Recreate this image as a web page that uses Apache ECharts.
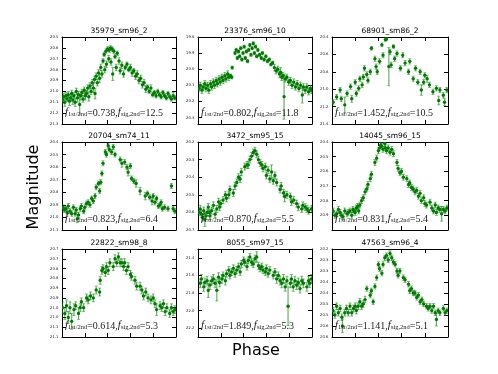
<!DOCTYPE html>
<html>
<head>
<meta charset="utf-8">
<script src="https://cdn.jsdelivr.net/npm/echarts@6/dist/echarts.min.js"></script>
<style>
html, body { margin: 0; padding: 0; background: #fff; }
#chart { width: 498px; height: 374px; }
</style>
</head>
<body>
<div id="chart"></div>
<script>
// light curves: [phase, magnitude, error]
var obs35979 = [[0.005,21.08,0.03],[0.015,21.05,0.03],[0.025,21.10,0.04],[0.035,21.04,0.03],[0.045,21.07,0.02],[0.055,21.03,0.03],[0.065,21.09,0.04],[0.075,21.06,0.03],[0.085,21.02,0.03],[0.095,21.08,0.04],[0.105,21.04,0.03],[0.115,21.10,0.04],[0.125,21.00,0.03],[0.135,21.06,0.04],[0.145,21.03,0.03],[0.155,21.12,0.09],[0.165,21.04,0.04],[0.175,21.01,0.03],[0.185,21.07,0.03],[0.195,20.99,0.03],[0.205,21.04,0.04],[0.215,21.02,0.03],[0.225,20.97,0.03],[0.235,21.05,0.04],[0.245,20.95,0.03],[0.255,21.00,0.03],[0.265,20.92,0.03],[0.275,20.97,0.04],[0.285,20.89,0.03],[0.29,21.02,0.05],[0.30,20.86,0.03],[0.31,20.92,0.03],[0.32,20.83,0.03],[0.33,20.88,0.04],[0.34,20.78,0.03],[0.35,20.84,0.03],[0.36,20.72,0.02],[0.37,20.66,0.02],[0.375,20.80,0.03],[0.385,20.63,0.02],[0.39,20.75,0.03],[0.40,20.61,0.02],[0.41,20.70,0.03],[0.415,20.62,0.02],[0.425,20.60,0.02],[0.43,20.73,0.03],[0.44,20.61,0.02],[0.445,20.84,0.06],[0.455,20.63,0.02],[0.465,20.68,0.02],[0.475,20.78,0.03],[0.485,20.65,0.02],[0.50,20.72,0.03],[0.51,20.81,0.03],[0.525,20.76,0.03],[0.54,20.84,0.03],[0.555,20.78,0.02],[0.57,20.75,0.02],[0.585,20.80,0.02],[0.60,20.78,0.03],[0.615,20.83,0.03],[0.63,20.81,0.02],[0.645,20.86,0.03],[0.66,20.84,0.03],[0.675,20.90,0.03],[0.69,20.88,0.03],[0.705,20.94,0.03],[0.72,20.92,0.03],[0.735,20.98,0.03],[0.75,20.96,0.02],[0.765,21.00,0.02],[0.78,20.97,0.03],[0.795,21.03,0.02],[0.81,21.01,0.02],[0.825,21.04,0.02],[0.84,21.00,0.02],[0.855,21.03,0.02],[0.87,21.05,0.02],[0.885,21.01,0.02],[0.90,21.04,0.02],[0.915,21.06,0.02],[0.93,21.02,0.02],[0.945,21.05,0.02],[0.96,21.07,0.02],[0.975,21.04,0.03],[0.99,21.06,0.02]];
var obs23376 = [[0.01,20.12,0.02],[0.02,20.10,0.02],[0.035,20.13,0.02],[0.045,20.11,0.02],[0.06,20.09,0.02],[0.07,20.12,0.02],[0.085,20.10,0.02],[0.095,20.13,0.02],[0.11,20.09,0.02],[0.12,20.11,0.02],[0.135,20.08,0.02],[0.145,20.10,0.02],[0.16,20.07,0.02],[0.17,20.09,0.02],[0.185,20.06,0.02],[0.195,20.08,0.02],[0.21,20.05,0.02],[0.22,20.07,0.02],[0.235,20.04,0.02],[0.245,20.06,0.02],[0.26,20.03,0.02],[0.27,20.05,0.02],[0.285,20.04,0.01],[0.295,20.05,0.01],[0.30,19.99,0.01],[0.325,19.90,0.01],[0.335,19.88,0.01],[0.345,19.93,0.01],[0.355,19.89,0.01],[0.365,19.92,0.01],[0.375,19.87,0.01],[0.385,19.94,0.01],[0.395,19.90,0.01],[0.405,19.86,0.01],[0.415,19.93,0.01],[0.425,19.89,0.01],[0.435,19.95,0.01],[0.445,19.88,0.01],[0.455,19.85,0.01],[0.465,19.91,0.01],[0.475,19.87,0.01],[0.485,19.84,0.01],[0.495,19.90,0.01],[0.505,19.86,0.01],[0.515,19.92,0.01],[0.525,19.88,0.01],[0.54,19.91,0.01],[0.555,19.93,0.01],[0.565,19.90,0.01],[0.58,19.94,0.01],[0.595,19.92,0.01],[0.61,19.95,0.01],[0.625,19.94,0.01],[0.64,19.97,0.01],[0.655,19.96,0.01],[0.67,19.99,0.02],[0.685,20.01,0.02],[0.70,20.00,0.02],[0.715,20.03,0.02],[0.725,20.02,0.03],[0.735,20.05,0.02],[0.745,20.04,0.02],[0.755,20.17,0.14],[0.765,20.06,0.02],[0.78,20.05,0.02],[0.795,20.08,0.02],[0.81,20.07,0.02],[0.825,20.10,0.02],[0.84,20.08,0.02],[0.855,20.11,0.02],[0.87,20.09,0.02],[0.885,20.12,0.02],[0.90,20.10,0.02],[0.915,20.16,0.05],[0.925,20.11,0.02],[0.94,20.13,0.02],[0.955,20.11,0.02],[0.97,20.14,0.02],[0.985,20.12,0.02],[0.995,20.13,0.02]];
var obs68901 = [[0.01,21.15,0.03],[0.04,21.09,0.03],[0.07,21.01,0.03],[0.08,21.11,0.03],[0.11,21.18,0.09],[0.13,21.05,0.03],[0.16,20.97,0.03],[0.17,21.11,0.04],[0.20,20.92,0.03],[0.21,21.05,0.03],[0.23,20.99,0.03],[0.24,20.88,0.03],[0.26,20.95,0.03],[0.27,20.86,0.03],[0.28,20.76,0.03],[0.30,20.83,0.03],[0.31,20.90,0.03],[0.33,20.80,0.03],[0.34,20.53,0.02],[0.37,20.65,0.03],[0.38,20.74,0.03],[0.39,20.80,0.03],[0.41,20.68,0.03],[0.43,20.49,0.02],[0.44,20.61,0.03],[0.46,20.43,0.02],[0.47,20.42,0.02],[0.49,20.74,0.22],[0.50,20.57,0.03],[0.51,20.72,0.03],[0.53,20.51,0.02],[0.54,20.65,0.03],[0.56,20.59,0.03],[0.59,20.76,0.03],[0.61,20.61,0.03],[0.63,20.70,0.03],[0.66,20.80,0.03],[0.67,20.68,0.03],[0.70,20.88,0.03],[0.72,20.76,0.03],[0.74,20.92,0.03],[0.76,20.80,0.03],[0.77,21.01,0.06],[0.79,20.92,0.03],[0.80,20.84,0.03],[0.82,20.88,0.04],[0.84,20.95,0.03],[0.87,21.03,0.03],[0.90,20.99,0.03],[0.92,21.13,0.05],[0.93,21.01,0.03],[0.96,21.07,0.03],[0.97,21.15,0.04],[0.99,21.01,0.03]];
var obs20704 = [[0.01,20.92,0.02],[0.02,20.94,0.02],[0.035,20.93,0.02],[0.045,20.96,0.02],[0.055,20.91,0.02],[0.07,20.95,0.02],[0.085,20.97,0.02],[0.10,20.92,0.02],[0.115,20.97,0.02],[0.125,20.94,0.02],[0.135,21.01,0.03],[0.145,20.98,0.02],[0.16,20.93,0.02],[0.17,20.91,0.02],[0.19,20.95,0.02],[0.20,20.92,0.02],[0.215,20.89,0.02],[0.23,20.88,0.02],[0.245,20.90,0.02],[0.26,20.85,0.02],[0.275,20.87,0.02],[0.29,20.83,0.02],[0.30,20.76,0.02],[0.32,20.73,0.02],[0.33,20.79,0.02],[0.34,20.72,0.02],[0.35,20.65,0.02],[0.36,20.57,0.02],[0.38,20.48,0.02],[0.39,20.50,0.02],[0.405,20.43,0.02],[0.415,20.46,0.02],[0.435,20.48,0.02],[0.45,20.44,0.02],[0.465,20.50,0.02],[0.51,20.54,0.02],[0.525,20.57,0.03],[0.55,20.56,0.02],[0.57,20.60,0.02],[0.58,20.64,0.03],[0.60,20.59,0.02],[0.61,20.69,0.02],[0.63,20.71,0.02],[0.65,20.73,0.03],[0.685,20.79,0.03],[0.73,20.83,0.03],[0.75,20.81,0.02],[0.77,20.84,0.02],[0.79,20.87,0.03],[0.80,20.83,0.02],[0.815,20.88,0.02],[0.83,20.85,0.02],[0.845,20.91,0.02],[0.86,20.90,0.02],[0.87,20.88,0.02],[0.88,20.93,0.02],[0.90,20.92,0.02],[0.93,20.93,0.02],[0.96,20.75,0.02],[0.975,20.93,0.02],[0.99,20.95,0.02]];
var obs3472 = [[0.01,20.60,0.02],[0.02,20.58,0.02],[0.03,20.61,0.02],[0.04,20.63,0.02],[0.05,20.59,0.02],[0.06,20.64,0.04],[0.07,20.62,0.02],[0.08,20.60,0.02],[0.09,20.57,0.02],[0.10,20.60,0.02],[0.105,20.62,0.02],[0.12,20.59,0.02],[0.135,20.56,0.02],[0.15,20.61,0.02],[0.165,20.58,0.02],[0.18,20.54,0.02],[0.19,20.57,0.02],[0.20,20.55,0.02],[0.22,20.53,0.02],[0.24,20.50,0.02],[0.25,20.52,0.02],[0.27,20.50,0.02],[0.28,20.47,0.02],[0.31,20.49,0.02],[0.325,20.45,0.02],[0.34,20.43,0.02],[0.355,20.40,0.02],[0.37,20.41,0.02],[0.38,20.37,0.02],[0.41,20.34,0.02],[0.43,20.33,0.02],[0.44,20.33,0.02],[0.455,20.30,0.02],[0.47,20.28,0.02],[0.485,20.26,0.02],[0.50,20.25,0.02],[0.515,20.27,0.02],[0.53,20.30,0.02],[0.545,20.32,0.02],[0.56,20.33,0.02],[0.57,20.35,0.02],[0.59,20.34,0.02],[0.60,20.39,0.02],[0.615,20.36,0.02],[0.63,20.41,0.02],[0.645,20.37,0.04],[0.66,20.42,0.02],[0.675,20.39,0.02],[0.69,20.43,0.02],[0.72,20.47,0.02],[0.73,20.45,0.02],[0.75,20.49,0.02],[0.76,20.51,0.03],[0.78,20.50,0.02],[0.81,20.51,0.02],[0.82,20.54,0.02],[0.84,20.53,0.02],[0.865,20.55,0.02],[0.88,20.57,0.02],[0.91,20.58,0.02],[0.92,20.56,0.02],[0.94,20.57,0.02],[0.955,20.58,0.02],[0.97,20.59,0.02],[0.995,20.58,0.02]];
var obs14045 = [[0.01,20.87,0.02],[0.025,20.90,0.02],[0.04,20.89,0.02],[0.055,20.86,0.02],[0.07,20.88,0.02],[0.08,20.90,0.02],[0.095,20.91,0.02],[0.11,20.87,0.02],[0.13,20.89,0.02],[0.14,20.88,0.02],[0.155,20.87,0.02],[0.17,20.90,0.02],[0.18,20.86,0.02],[0.19,20.87,0.02],[0.20,20.88,0.02],[0.21,20.85,0.02],[0.22,20.84,0.02],[0.23,20.87,0.02],[0.24,20.83,0.02],[0.255,20.80,0.02],[0.27,20.78,0.02],[0.285,20.74,0.02],[0.30,20.72,0.02],[0.31,20.69,0.02],[0.33,20.65,0.02],[0.34,20.62,0.02],[0.37,20.54,0.02],[0.385,20.51,0.02],[0.40,20.46,0.02],[0.41,20.44,0.02],[0.42,20.42,0.02],[0.43,20.43,0.02],[0.44,20.45,0.02],[0.455,20.41,0.02],[0.46,20.44,0.02],[0.47,20.46,0.02],[0.485,20.44,0.02],[0.50,20.47,0.02],[0.515,20.45,0.02],[0.53,20.48,0.02],[0.56,20.54,0.02],[0.57,20.58,0.02],[0.585,20.61,0.02],[0.60,20.60,0.02],[0.615,20.64,0.02],[0.645,20.65,0.02],[0.66,20.69,0.02],[0.67,20.68,0.02],[0.685,20.71,0.02],[0.70,20.72,0.02],[0.715,20.74,0.02],[0.73,20.73,0.02],[0.745,20.77,0.02],[0.76,20.75,0.02],[0.77,20.80,0.02],[0.79,20.78,0.02],[0.80,20.82,0.02],[0.815,20.83,0.02],[0.845,20.81,0.02],[0.86,20.85,0.02],[0.875,20.87,0.02],[0.89,20.83,0.02],[0.90,20.88,0.02],[0.915,20.85,0.02],[0.93,20.86,0.02],[0.945,20.89,0.05],[0.96,20.86,0.02],[0.975,20.87,0.02],[0.99,20.85,0.02]];
var obs22822 = [[0.005,20.95,0.03],[0.025,20.98,0.03],[0.04,20.94,0.03],[0.055,21.00,0.03],[0.07,20.95,0.03],[0.085,21.02,0.04],[0.105,20.96,0.03],[0.12,20.94,0.02],[0.145,20.98,0.03],[0.16,20.95,0.02],[0.17,20.92,0.02],[0.19,20.95,0.02],[0.215,20.90,0.02],[0.23,20.91,0.02],[0.25,20.89,0.02],[0.275,20.90,0.02],[0.30,20.86,0.02],[0.33,20.87,0.02],[0.335,20.81,0.02],[0.35,20.76,0.02],[0.36,20.75,0.02],[0.38,20.77,0.02],[0.39,20.74,0.02],[0.405,20.76,0.02],[0.42,20.72,0.02],[0.45,20.74,0.02],[0.465,20.70,0.02],[0.48,20.72,0.02],[0.495,20.69,0.02],[0.51,20.72,0.02],[0.525,20.72,0.02],[0.54,20.74,0.02],[0.55,20.72,0.02],[0.565,20.76,0.02],[0.58,20.74,0.02],[0.60,20.78,0.02],[0.61,20.79,0.02],[0.64,20.81,0.02],[0.655,20.84,0.02],[0.685,20.84,0.02],[0.70,20.86,0.02],[0.715,20.89,0.02],[0.735,20.87,0.02],[0.755,20.90,0.02],[0.78,20.91,0.02],[0.80,20.90,0.02],[0.815,20.93,0.02],[0.83,20.96,0.03],[0.86,20.94,0.02],[0.875,20.95,0.02],[0.89,20.93,0.02],[0.905,20.97,0.02],[0.92,20.95,0.02],[0.945,20.98,0.02],[0.96,20.95,0.02],[0.975,20.97,0.02],[0.99,20.96,0.02]];
var obs8055 = [[0.02,21.69,0.05],[0.03,21.64,0.05],[0.05,21.73,0.05],[0.06,21.68,0.05],[0.08,21.66,0.05],[0.09,21.77,0.08],[0.105,21.71,0.05],[0.12,21.66,0.05],[0.135,21.64,0.05],[0.15,21.69,0.05],[0.165,21.77,0.12],[0.18,21.62,0.05],[0.19,21.68,0.05],[0.21,21.64,0.05],[0.22,21.60,0.04],[0.24,21.66,0.05],[0.25,21.58,0.04],[0.27,21.54,0.04],[0.28,21.60,0.04],[0.295,21.56,0.04],[0.31,21.52,0.04],[0.325,21.58,0.04],[0.34,21.54,0.04],[0.355,21.50,0.04],[0.37,21.56,0.04],[0.38,21.47,0.04],[0.40,21.43,0.04],[0.41,21.45,0.04],[0.43,21.50,0.04],[0.44,21.43,0.04],[0.455,21.39,0.04],[0.47,21.45,0.04],[0.485,21.47,0.04],[0.50,21.41,0.04],[0.515,21.39,0.06],[0.53,21.49,0.04],[0.545,21.52,0.04],[0.56,21.50,0.04],[0.57,21.54,0.04],[0.59,21.56,0.04],[0.60,21.52,0.04],[0.615,21.58,0.04],[0.63,21.54,0.04],[0.66,21.60,0.04],[0.675,21.56,0.04],[0.69,21.64,0.05],[0.705,21.60,0.04],[0.72,21.66,0.05],[0.735,21.69,0.05],[0.75,21.64,0.05],[0.765,21.73,0.05],[0.78,21.66,0.05],[0.79,21.95,0.22],[0.81,21.69,0.05],[0.82,21.64,0.05],[0.835,21.73,0.05],[0.85,21.66,0.05],[0.865,21.71,0.05],[0.88,21.68,0.05],[0.895,21.75,0.05],[0.91,21.66,0.05],[0.925,21.69,0.05],[0.955,21.73,0.05],[0.97,21.66,0.05],[0.98,21.69,0.05],[0.995,21.64,0.05]];
var obs47563 = [[0.01,20.48,0.015],[0.025,20.50,0.015],[0.04,20.46,0.015],[0.055,20.49,0.015],[0.07,20.47,0.015],[0.085,20.51,0.015],[0.09,20.55,0.03],[0.11,20.49,0.015],[0.125,20.47,0.015],[0.14,20.49,0.015],[0.155,20.46,0.015],[0.17,20.49,0.015],[0.185,20.47,0.015],[0.20,20.46,0.015],[0.21,20.48,0.015],[0.225,20.46,0.015],[0.24,20.44,0.015],[0.255,20.46,0.015],[0.27,20.45,0.015],[0.285,20.43,0.015],[0.30,20.38,0.012],[0.33,20.41,0.012],[0.34,20.39,0.012],[0.355,20.44,0.012],[0.37,20.37,0.012],[0.385,20.33,0.012],[0.40,20.27,0.012],[0.41,20.29,0.012],[0.43,20.31,0.012],[0.44,20.27,0.012],[0.455,20.24,0.012],[0.47,20.23,0.012],[0.485,20.25,0.012],[0.50,20.22,0.012],[0.515,20.24,0.012],[0.53,20.26,0.012],[0.545,20.27,0.012],[0.56,20.30,0.012],[0.57,20.32,0.012],[0.585,20.30,0.012],[0.615,20.33,0.012],[0.63,20.34,0.012],[0.66,20.36,0.012],[0.67,20.39,0.012],[0.685,20.38,0.012],[0.70,20.40,0.012],[0.715,20.40,0.012],[0.73,20.42,0.012],[0.745,20.41,0.012],[0.76,20.44,0.012],[0.775,20.43,0.012],[0.79,20.45,0.012],[0.815,20.46,0.012],[0.83,20.47,0.012],[0.845,20.46,0.012],[0.86,20.48,0.012],[0.875,20.46,0.012],[0.89,20.49,0.012],[0.90,20.52,0.03],[0.915,20.48,0.012],[0.93,20.49,0.012],[0.96,20.47,0.012],[0.975,20.49,0.012],[0.99,20.48,0.012]];

var panelNames = ['35979_sm96_2', '23376_sm96_10', '68901_sm86_2', '20704_sm74_11', '3472_sm95_15', '14045_sm96_15', '22822_sm98_8', '8055_sm97_15', '47563_sm96_4'];
var fRatio = ['0.738', '0.802', '1.452', '0.823', '0.870', '0.831', '0.614', '1.849', '1.141'];
var fSig = ['12.5', '11.8', '10.5', '6.4', '5.5', '5.4', '5.3', '5.3', '5.1'];
var magTop = [20.5, 19.8, 20.4, 20.4, 20.2, 20.4, 20.65, 21.3, 20.2];
var magBottom = [21.3, 20.34, 21.4, 21.1, 20.7, 21.0, 21.1, 22.3, 20.6];

// y tick positions and the text printed at them
var ticks35979 = [20.5, 20.6, 20.7, 20.8, 20.9, 21.0, 21.1, 21.2, 21.3];
var ticks23376 = [19.8, 19.9, 20.0, 20.1, 20.2, 20.3];
var ticks68901 = [20.4, 20.6, 20.8, 21.0, 21.2, 21.4];
var ticks20704 = [20.4, 20.5, 20.6, 20.7, 20.8, 20.9, 21.0, 21.1];
var ticks3472 = [20.2, 20.3, 20.4, 20.5, 20.6, 20.7];
var ticks14045 = [20.4, 20.5, 20.6, 20.7, 20.8, 20.9];
var ticks22822 = [20.65, 20.7, 20.75, 20.8, 20.85, 20.9, 20.95, 21.0, 21.05, 21.1];
var labels22822 = ['20.7', '20.7', '20.8', '20.8', '20.9', '20.9', '21.0', '21.0', '21.1', '21.1'];
var ticks8055 = [21.4, 21.6, 21.8, 22.0, 22.2];
var ticks47563 = [20.2, 20.25, 20.3, 20.35, 20.4, 20.45, 20.5, 20.55, 20.6];
var labels47563 = ['20.2', '20.3', '20.3', '20.4', '20.4', '20.5', '20.5', '20.6', '20.6'];

var allObs = [obs35979, obs23376, obs68901, obs20704, obs3472, obs14045, obs22822, obs8055, obs47563];
var allTicks = [ticks35979, ticks23376, ticks68901, ticks20704, ticks3472, ticks14045, ticks22822, ticks8055, ticks47563];
var allLabels = [null, null, null, null, null, null, labels22822, null, labels47563];

var colLeft = [62, 198, 332], colWidth = [114, 114, 116];
var rowTop = [37, 142, 249], rowHeight = [87, 88, 88];

var barColor = 'rgba(0,128,0,0.6)';

// error bar with caps plus the point itself
function renderErr(params, api) {
    var x = api.value(0), y = api.value(1), e = api.value(2);
    var p = api.coord([x, y]);
    var hi = api.coord([x, y - e]);
    var lo = api.coord([x, y + e]);
    return {
        type: 'group',
        children: [
            {type: 'line', shape: {x1: p[0], y1: hi[1], x2: p[0], y2: lo[1]}, style: {stroke: barColor, lineWidth: 1.2}},
            {type: 'line', shape: {x1: p[0] - 1.5, y1: hi[1], x2: p[0] + 1.5, y2: hi[1]}, style: {stroke: barColor, lineWidth: 0.8}},
            {type: 'line', shape: {x1: p[0] - 1.5, y1: lo[1], x2: p[0] + 1.5, y2: lo[1]}, style: {stroke: barColor, lineWidth: 0.8}},
            {type: 'circle', shape: {cx: p[0], cy: p[1], r: 1.7}, style: {fill: '#007a00'}}
        ]
    };
}

function makeFormatter(ticks, labels) {
    return function (v) {
        for (var k = 0; k < ticks.length; k++) {
            if (Math.abs(ticks[k] - v) < 1e-6) return labels ? labels[k] : ticks[k].toFixed(1);
        }
        return '';
    };
}

// kept inside a function: a global "top" would be window.top
function buildOption() {
    var grids = [], xAxes = [], yAxes = [], series = [], titles = [], graphics = [];
    for (var i = 0; i < 9; i++) {
        var r = Math.floor(i / 3), c = i % 3;
        var gLeft = colLeft[c], gTop = rowTop[r], w = colWidth[c], h = rowHeight[r];
        grids.push({left: gLeft, top: gTop, width: w, height: h});
        ['bottom', 'top'].forEach(function (pos) {
            xAxes.push({
                type: 'value', gridIndex: i, position: pos, min: 0, max: 1, interval: 0.2,
                axisLine: {show: true, onZero: false, lineStyle: {color: '#000', width: 1}},
                axisTick: {show: true, inside: true, length: 4, lineStyle: {color: '#000', width: 1}},
                axisLabel: {show: false}, splitLine: {show: false}
            });
        });
        ['left', 'right'].forEach(function (pos) {
            yAxes.push({
                type: 'value', gridIndex: i, position: pos, inverse: true, min: magTop[i], max: magBottom[i],
                axisLine: {show: true, onZero: false, lineStyle: {color: '#000', width: 1}},
                axisTick: {show: true, inside: true, length: 4, customValues: allTicks[i].slice(), lineStyle: {color: '#000', width: 1}},
                axisLabel: {show: pos === 'left', customValues: allTicks[i].slice(), margin: 3.5, fontSize: 3.8,
                    fontFamily: 'DejaVu Sans', color: '#222', formatter: makeFormatter(allTicks[i], allLabels[i])},
                splitLine: {show: false}
            });
        });
        series.push({
            type: 'custom', xAxisIndex: 2 * i, yAxisIndex: 2 * i,
            renderItem: renderErr, clip: true, data: allObs[i]
        });
        titles.push({
            text: panelNames[i], left: gLeft + w / 2, top: gTop - 10, textAlign: 'center', padding: 0,
            textStyle: {fontFamily: 'DejaVu Sans', fontSize: 7.5, fontWeight: 'normal', color: '#000'}
        });
        graphics.push({
            type: 'text', left: gLeft + 3, top: gTop + h - 17, z: 100,
            style: {
                text: '{f|f}{s|1st/2nd}{n|=' + fRatio[i] + ',}{f|f}{s|sig,2nd}{n|=' + fSig[i] + '}',
                rich: {
                    f: {fontFamily: 'Liberation Serif', fontStyle: 'italic', fontSize: 11, lineHeight: 12, verticalAlign: 'bottom', fill: '#222'},
                    n: {fontFamily: 'Liberation Serif', fontSize: 10, lineHeight: 12, verticalAlign: 'bottom', fill: '#222'},
                    s: {fontFamily: 'Liberation Serif', fontSize: 6.5, lineHeight: 5, verticalAlign: 'bottom', fill: '#222'}
                }
            }
        });
    }
    graphics.push({
        type: 'text', x: 34, y: 187, rotation: Math.PI / 2,
        style: {text: 'Magnitude', fontFamily: 'DejaVu Sans', fontSize: 16, fill: '#000', align: 'center', verticalAlign: 'middle'}
    });
    graphics.push({
        type: 'text', x: 256, y: 351,
        style: {text: 'Phase', fontFamily: 'DejaVu Sans', fontSize: 16, fill: '#000', align: 'center', verticalAlign: 'middle'}
    });
    return {
        animation: false,
        backgroundColor: '#fff',
        title: titles,
        grid: grids,
        xAxis: xAxes,
        yAxis: yAxes,
        series: series,
        graphic: graphics
    };
}

var chart = echarts.init(document.getElementById('chart'));
chart.setOption(buildOption());
</script>
</body>
</html>
